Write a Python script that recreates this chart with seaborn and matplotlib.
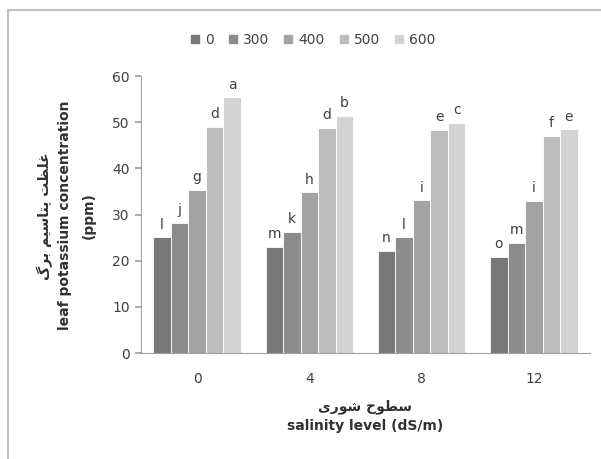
import matplotlib
matplotlib.use("Agg")
import matplotlib.pyplot as plt
import seaborn as sns
import pandas as pd
from matplotlib.lines import Line2D
from matplotlib.patches import Rectangle

# ---------------- data ----------------
salinity = ["0", "4", "8", "12"]
treatments = ["0", "300", "400", "500", "600"]
k_0 = [25.1, 23.0, 22.1, 20.9]
k_300 = [28.2, 26.3, 25.1, 23.9]
k_400 = [35.4, 34.8, 33.1, 33.0]
k_500 = [49.0, 48.8, 48.4, 47.0]
k_600 = [55.4, 51.4, 49.9, 48.5]
letters_0 = ["l", "m", "n", "o"]
letters_300 = ["j", "k", "l", "m"]
letters_400 = ["g", "h", "i", "i"]
letters_500 = ["d", "d", "e", "f"]
letters_600 = ["a", "b", "c", "e"]
colors = ["#787878", "#8c8c8c", "#a3a3a3", "#bdbdbd", "#d3d3d3"]

series = [k_0, k_300, k_400, k_500, k_600]
letters = [letters_0, letters_300, letters_400, letters_500, letters_600]

rows = []
for t, vals in zip(treatments, series):
    for s, v in zip(salinity, vals):
        rows.append({"salinity": s, "treatment": t, "value": v})
df = pd.DataFrame(rows)

# ---------------- simple Arabic-script shaping ----------------
FORMS = {
    "ا": ("\uFE8D", "\uFE8E", None, None),
    "ب": ("\uFE8F", "\uFE90", "\uFE91", "\uFE92"),
    "پ": ("\uFB56", "\uFB57", "\uFB58", "\uFB59"),
    "ت": ("\uFE95", "\uFE96", "\uFE97", "\uFE98"),
    "ح": ("\uFEA1", "\uFEA2", "\uFEA3", "\uFEA4"),
    "ر": ("\uFEAD", "\uFEAE", None, None),
    "س": ("\uFEB1", "\uFEB2", "\uFEB3", "\uFEB4"),
    "ش": ("\uFEB5", "\uFEB6", "\uFEB7", "\uFEB8"),
    "ط": ("\uFEC1", "\uFEC2", "\uFEC3", "\uFEC4"),
    "ظ": ("\uFEC5", "\uFEC6", "\uFEC7", "\uFEC8"),
    "غ": ("\uFECD", "\uFECE", "\uFECF", "\uFED0"),
    "گ": ("\uFB92", "\uFB93", "\uFB94", "\uFB95"),
    "ل": ("\uFEDD", "\uFEDE", "\uFEDF", "\uFEE0"),
    "م": ("\uFEE1", "\uFEE2", "\uFEE3", "\uFEE4"),
    "و": ("\uFEED", "\uFEEE", None, None),
    "ی": ("\uFBFC", "\uFBFD", "\uFBFE", "\uFBFF"),
}


def shape(text):
    out = []
    chars = list(text)
    for i, c in enumerate(chars):
        if c not in FORMS:
            out.append(c)
            continue
        prev = chars[i - 1] if i > 0 else None
        nxt = chars[i + 1] if i + 1 < len(chars) else None
        join_prev = prev in FORMS and FORMS[prev][2] is not None
        join_next = nxt in FORMS and FORMS[c][2] is not None
        iso, fin, ini, med = FORMS[c]
        if join_prev and join_next:
            out.append(med)
        elif join_prev:
            out.append(fin)
        elif join_next:
            out.append(ini)
        else:
            out.append(iso)
    return "".join(reversed(out))


ylabel_fa = "غلظت پتاسیم برگ"
xlabel_fa = "سطوح شوری"

# ---------------- plot ----------------
sns.set_theme(style="white")
plt.rcParams["font.family"] = ["DejaVu Sans", "Noto Sans"]

fig = plt.figure(figsize=(6.01, 4.59), dpi=100)
ax = fig.add_axes([0.2346, 0.2309, 0.7471, 0.6035])

sns.barplot(data=df, x="salinity", y="value", hue="treatment",
            order=salinity, hue_order=treatments, palette=colors,
            width=0.78, edgecolor="white", linewidth=0.6,
            saturation=1, errorbar=None, ax=ax, legend=False)

for cont, labs in zip(ax.containers, letters):
    for bar, lab in zip(cont, labs):
        ax.annotate(lab, (bar.get_x() + bar.get_width() / 2, bar.get_height()),
                    xytext=(0, 4), textcoords="offset points",
                    ha="center", va="bottom", fontsize=10, color="#404040")

ax.set_ylim(0, 60)
ax.set_yticks(range(0, 61, 10))
ax.set_xlim(-0.5, 3.5)
ax.set_xticks(range(4))
ax.set_xticklabels(salinity)
ax.set_xticks([-0.5, 0.5, 1.5, 2.5, 3.5], minor=True)
ax.tick_params(axis="x", which="major", length=0, pad=14, labelsize=10, labelcolor="#404040")
ax.tick_params(axis="x", which="minor", length=4, color="#a0a0a0", direction="out")
ax.tick_params(axis="y", length=4, color="#a0a0a0", direction="out", labelsize=10,
               labelcolor="#404040", pad=4, left=True)
for s in ["top", "right"]:
    ax.spines[s].set_visible(False)
for s in ["left", "bottom"]:
    ax.spines[s].set_color("#a0a0a0")
    ax.spines[s].set_linewidth(0.8)
ax.set_xlabel("")
ax.set_ylabel("")

# axis titles
fig.text(0.075, 0.53, shape(ylabel_fa), rotation=90, ha="center", va="center",
         fontsize=10, fontweight="bold", color="#303030")
fig.text(0.108, 0.53, "leaf potassium concentration", rotation=90, ha="center",
         va="center", fontsize=10, fontweight="bold", color="#303030")
fig.text(0.147, 0.53, "(ppm)", rotation=90, ha="center", va="center",
         fontsize=10, fontweight="bold", color="#303030")
fig.text(0.608, 1 - 407 / 459, shape(xlabel_fa), ha="center", va="center",
         fontsize=10, fontweight="bold", color="#303030")
fig.text(0.608, 1 - 426 / 459, "salinity level (dS/m)", ha="center", va="center",
         fontsize=10, fontweight="bold", color="#303030")

# legend
handles = [Line2D([0], [0], marker="s", linestyle="none", markersize=6,
                  markerfacecolor=c, markeredgecolor=c) for c in colors]
fig.legend(handles, treatments, loc="center", bbox_to_anchor=(0.52, 1 - 40 / 459),
           ncol=5, frameon=False, fontsize=10, handlelength=0.8, handletextpad=0.3,
           columnspacing=1.0, labelcolor="#404040")

# outer frame (only top and left edges fall inside the image)
fig.patches.append(Rectangle((7.5 / 601, -0.2), 1.5, 1.2 - 10.5 / 459,
                             transform=fig.transFigure, fill=False,
                             edgecolor="#c0c0c0", linewidth=1.5))

fig.savefig("out.png", dpi=100)
